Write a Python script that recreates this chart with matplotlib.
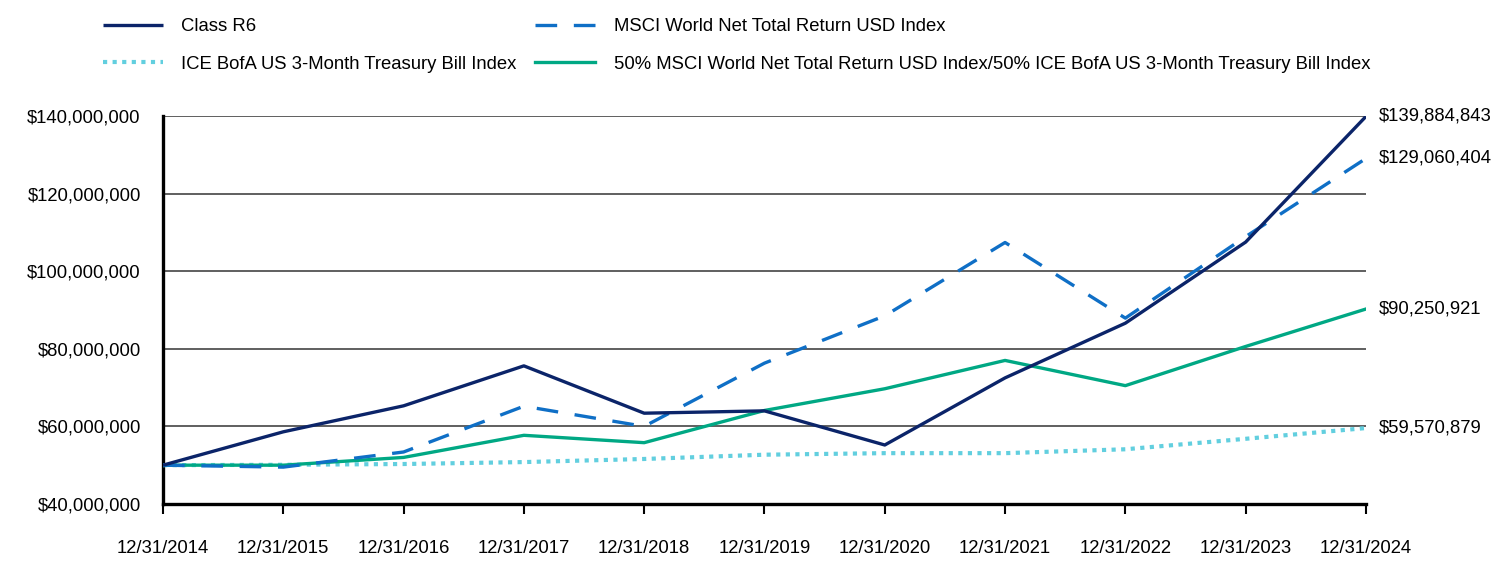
import numpy as np
import matplotlib
matplotlib.use('Agg')
import matplotlib.pyplot as plt
from matplotlib.ticker import FuncFormatter

plt.rcParams['font.family'] = ['Liberation Sans', 'DejaVu Sans']

years = ['12/31/2014', '12/31/2015', '12/31/2016', '12/31/2017', '12/31/2018', '12/31/2019',
         '12/31/2020', '12/31/2021', '12/31/2022', '12/31/2023', '12/31/2024']

class_r6 = [50.0, 58.6, 65.3, 75.6, 63.4, 64.0, 55.2, 72.5, 86.6, 107.5, 139.884843]
msci = [50.0, 49.5, 53.4, 65.2, 60.0, 76.3, 88.5, 107.4, 87.9, 108.9, 129.060404]
ice = [50.0, 50.1, 50.3, 50.8, 51.6, 52.7, 53.1, 53.1, 54.1, 56.8, 59.570879]
blend = [50.0, 50.0, 52.0, 57.7, 55.8, 64.1, 69.7, 77.0, 70.5, 80.6, 90.250921]

names = ['Class R6', 'ICE BofA US 3-Month Treasury Bill Index',
         'MSCI World Net Total Return USD Index',
         '50% MSCI World Net Total Return USD Index/50% ICE BofA US 3-Month Treasury Bill Index']
end_labels = ['$139,884,843', '$59,570,879', '$129,060,404', '$90,250,921']

fs = 13.3

fig = plt.figure(figsize=(15.12, 5.88), dpi=100)
ax = fig.add_axes([0.1078, 0.1429, 0.7956, 0.6598])

x = np.arange(len(years))
series = [np.array(class_r6) * 1e6, np.array(ice) * 1e6, np.array(msci) * 1e6, np.array(blend) * 1e6]

l1, = ax.plot(x, series[0], color='#0b2469', lw=2.4, solid_capstyle='butt', zorder=5)
l2, = ax.plot(x, series[1], color='#62cfdf', lw=3, linestyle=(0, (1, 1.3)), zorder=3)
l3, = ax.plot(x, series[2], color='#0f6fc6', lw=2.4, linestyle=(0, (6.5, 5)), zorder=4)
l4, = ax.plot(x, series[3], color='#00a884', lw=2.4, zorder=3)

ax.set_xlim(0, len(years) - 1)
ax.set_ylim(40e6, 140e6)
ax.set_yticks(np.arange(40e6, 140e6 + 1, 20e6))
ax.yaxis.set_major_formatter(FuncFormatter(lambda v, p: '${:,.0f}'.format(v)))
ax.set_xticks(x)
ax.set_xticklabels(years)
ax.grid(axis='y', color='#444444', lw=1.2)
ax.set_axisbelow(True)

for s in ['top', 'right']:
    ax.spines[s].set_visible(False)
for s in ['left', 'bottom']:
    ax.spines[s].set_linewidth(2.4)
    ax.spines[s].set_color('black')

ax.tick_params(axis='x', length=7, width=1.5, pad=19, labelsize=fs)
ax.tick_params(axis='y', length=0, pad=16, labelsize=fs)

for s, lab in zip(series, end_labels):
    ax.annotate(lab, xy=(x[-1], s[-1]), xytext=(9, 0), textcoords='offset points',
                va='center', ha='left', fontsize=fs, annotation_clip=False)

fig.legend([l1, l2, l3, l4], names, loc='upper left', bbox_to_anchor=(0.057, 0.997),
           ncol=2, frameon=False, fontsize=fs, handlelength=3.25, handletextpad=1.0,
           columnspacing=1.0, labelspacing=1.1)

fig.savefig('out.png', dpi=100)
